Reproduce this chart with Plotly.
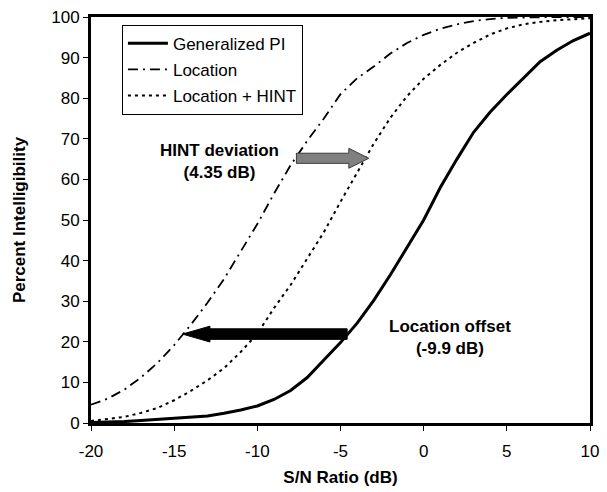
import plotly.graph_objects as go

snr = list(range(-20, 11))
generalized_pi = [0.1, 0.2, 0.35, 0.6, 0.85, 1.1, 1.4, 1.7, 2.4, 3.2, 4.2, 5.8, 8.0, 11.2, 15.5,
                  19.8, 24.6, 30.2, 36.5, 43.2, 50.0, 58.0, 65.0, 71.6, 76.6, 80.9, 85.0, 89.0,
                  91.8, 94.2, 96.0]
location = [4.5, 6.0, 8.2, 11.2, 14.8, 19.2, 24.2, 29.6, 35.5, 42.3, 49.0, 56.5, 63.5, 69.5,
            75.0, 81.0, 84.9, 87.8, 91.0, 93.6, 95.6, 97.1, 98.2, 99.0, 99.5, 99.8, 99.9, 100,
            100, 100, 100]
location_hint = [0.5, 1.0, 1.5, 2.5, 3.7, 5.6, 7.9, 10.5, 13.5, 17.5, 22.0, 28.3, 34.0, 40.5,
                 47.0, 54.5, 61.8, 68.8, 75.2, 80.5, 84.8, 88.2, 91.2, 93.6, 95.7, 97.2, 98.2,
                 98.8, 99.2, 99.5, 99.7]

x_ticks = [-20, -15, -10, -5, 0, 5, 10]
y_ticks = [0, 10, 20, 30, 40, 50, 60, 70, 80, 90, 100]

# annotated shifts
hint_shift = 4.35
hint_start = -7.65
hint_level = 65.2
offset_shift = -9.9
offset_start = -4.6
offset_level = 21.9

FONT = "Liberation Sans, Arial, sans-serif"

fig = go.Figure()
fig.add_trace(go.Scatter(x=snr, y=generalized_pi, mode="lines", name="Generalized PI",
                         legendgroup="a",
                         line=dict(color="black", width=3)))
fig.add_trace(go.Scatter(x=snr, y=location, mode="lines", name="Location",
                         legendgroup="b",
                         line=dict(color="black", width=1.8, dash="10px,5px,2px,5px")))
fig.add_trace(go.Scatter(x=snr, y=location_hint, mode="lines", name="Location + HINT",
                         legendgroup="c",
                         line=dict(color="black", width=2, dash="3px,4px")))


def block_arrow(x0, x1, y, body_half, head_half, head_len):
    d = 1 if x1 > x0 else -1
    xb = x1 - d * head_len
    pts = [(x0, y - body_half), (xb, y - body_half), (xb, y - head_half), (x1, y),
           (xb, y + head_half), (xb, y + body_half), (x0, y + body_half)]
    return "M " + " L ".join(f"{px},{py}" for px, py in pts) + " Z"


fig.add_shape(type="path", xref="x", yref="y", layer="above",
              path=block_arrow(hint_start, hint_start + hint_shift, hint_level, 1.25, 2.45, 1.2),
              fillcolor="#808080", line=dict(color="#3a3a3a", width=1))
fig.add_shape(type="path", xref="x", yref="y", layer="above",
              path=block_arrow(offset_start, offset_start + offset_shift, offset_level, 1.3, 1.95, 1.65),
              fillcolor="black", line=dict(color="black", width=1))

fig.add_annotation(x=-12.3, y=64.5, xref="x", yref="y", showarrow=False,
                   text="<b>HINT deviation<br>(4.35 dB)</b>",
                   font=dict(family=FONT, size=17, color="black"), align="center")
fig.add_annotation(x=1.6, y=21.0, xref="x", yref="y", showarrow=False,
                   text="<b>Location offset<br>(-9.9 dB)</b>",
                   font=dict(family=FONT, size=17, color="black"), align="center")

fig.update_layout(
    width=607, height=492,
    margin=dict(l=91, r=8, t=15, b=67),
    paper_bgcolor="white", plot_bgcolor="white",
    font=dict(family=FONT, size=17, color="black"),
    showlegend=True,
    legend=dict(x=0.062, y=0.981, xanchor="left", yanchor="top",
                bgcolor="white", bordercolor="black", borderwidth=1,
                font=dict(family=FONT, size=17, color="black"),
                tracegroupgap=1, itemwidth=40),
)
fig.update_xaxes(range=[-20, 10], tickvals=x_ticks, ticktext=[str(v) for v in x_ticks],
                 showgrid=False, zeroline=False,
                 showline=True, linecolor="black", linewidth=3, mirror=True,
                 ticks="outside", ticklen=5, tickwidth=1, tickcolor="black",
                 ticklabelstandoff=6,
                 title=dict(text="<b>S/N Ratio (dB)</b>", standoff=11,
                            font=dict(family=FONT, size=17)))
fig.update_yaxes(range=[0, 100], tickvals=y_ticks, ticktext=[str(v) for v in y_ticks],
                 showgrid=False, zeroline=False,
                 showline=True, linecolor="black", linewidth=3, mirror=True,
                 ticks="outside", ticklen=5, tickwidth=1, tickcolor="black",
                 ticklabelstandoff=0,
                 title=dict(text="<b>Percent Intelligibility</b>", standoff=22,
                            font=dict(family=FONT, size=17)))

fig.write_html("out.html", config={"displayModeBar": False},
               post_script="document.body.style.margin='0';document.body.style.padding='0';")
